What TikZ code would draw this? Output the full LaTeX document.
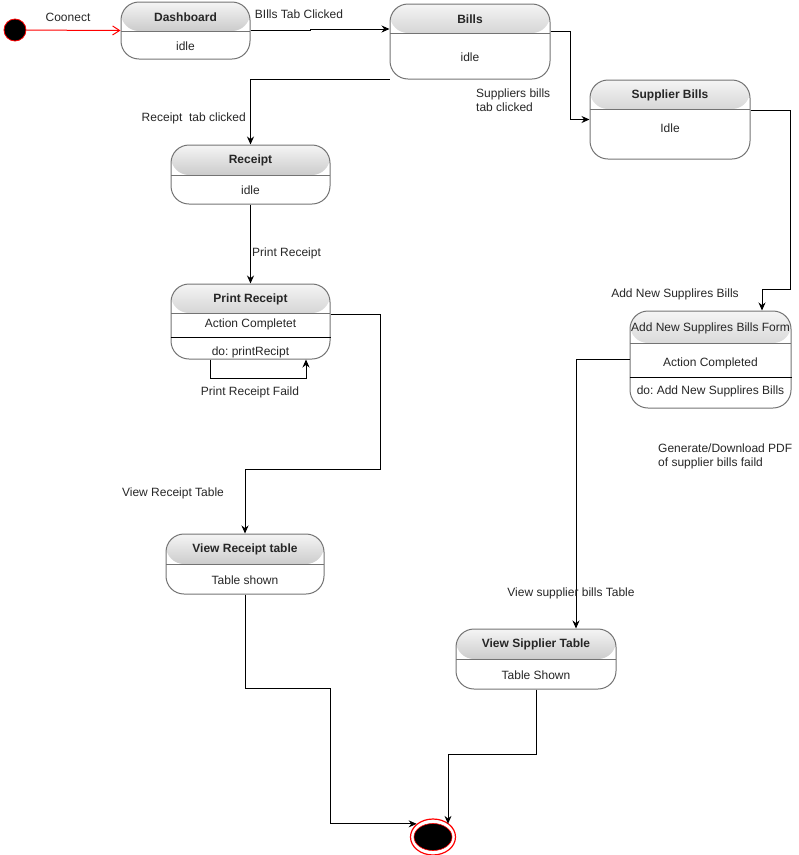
\documentclass[tikz,border=0pt]{standalone}
\usepackage{fontspec}
\setmainfont{Liberation Sans}
\frenchspacing
\usepackage{tikz}
\usetikzlibrary{shapes.geometric,arrows.meta}

\begin{document}
\begin{tikzpicture}[x=1pt,y=-1pt]
\tikzstyle{txt} = [inner sep=0pt, text=black!85, font=\fontsize{12}{14}\selectfont]
\tikzstyle{ttl} = [txt, font=\fontsize{12}{14}\selectfont\bfseries]
\tikzstyle{line} = [draw, line width=1pt, -{Stealth[length=8pt,width=7pt]}]
\tikzstyle{state} = [draw=black!55, line width=1pt, rounded corners=18pt, inner sep=0pt,
  path picture={
    \shade[top color=black!4, bottom color=black!36]
      (path picture bounding box.north west) rectangle ([yshift=-#1]path picture bounding box.north east);
    \draw[black!55, line width=1pt] ([yshift=-#1]path picture bounding box.north west)
      -- ([yshift=-#1]path picture bounding box.north east);
  }]
\useasboundingbox (0,0) rectangle (799,855);

% start and end
\node[circle, fill=black, draw=red, line width=0.8pt, minimum size=22pt, inner sep=0pt] (init) at (15,30) {};
\node[ellipse, draw=red, line width=1.2pt, minimum width=45pt, minimum height=36pt] (final) at (433,837) {};
\filldraw[black, draw=red, line width=0.6pt] (final.center) ellipse (19 and 13.5);

% states
\node[state=29pt, minimum width=129pt, minimum height=57pt] (dash) at (185.5,30.5) {};
\node[ttl] at ([yshift=-16pt]dash.north) {Dashboard};
\node[txt] at ([yshift=13pt]dash.south) {idle};

\node[state=29pt, minimum width=160pt, minimum height=75pt] (bills) at (470,41.5) {};
\node[ttl] at ([yshift=-16pt]bills.north) {Bills};
\node[txt] at ([yshift=22pt]bills.south) {idle};

\node[state=29pt, minimum width=160pt, minimum height=79pt] (supp) at (670,119.5) {};
\node[ttl] at ([yshift=-16pt]supp.north) {Supplier Bills};
\node[txt] at ([yshift=31pt]supp.south) {Idle};

\node[state=30pt, minimum width=159pt, minimum height=59pt] (receipt) at (250.5,174.5) {};
\node[ttl] at ([yshift=-16pt]receipt.north) {Receipt};
\node[txt] at ([yshift=14pt]receipt.south) {idle};

\node[state=29pt, minimum width=159pt, minimum height=75pt] (print) at (250.5,321.5) {};
\node[ttl] at ([yshift=-16pt]print.north) {Print Receipt};
\node[txt] at ([yshift=35pt]print.south) {Action Completet};
\draw[line width=1pt] ([yshift=22pt]print.south west) -- ([yshift=22pt]print.south east);
\node[txt] at ([yshift=7pt]print.south) {do: printRecipt};

\node[state=32pt, minimum width=161pt, minimum height=97pt] (addnew) at (710.5,359.5) {};
\node[txt] at ([yshift=-18pt]addnew.north) {Add New Supplires Bills Form};
\node[txt] at ([yshift=45pt]addnew.south) {Action Completed};
\draw[line width=1pt] ([yshift=31pt]addnew.south west) -- ([yshift=31pt]addnew.south east);
\node[txt] at ([yshift=17pt]addnew.south) {do: Add New Supplires Bills};

\node[state=30pt, minimum width=158pt, minimum height=60pt] (viewr) at (245,564) {};
\node[ttl] at ([yshift=-16pt]viewr.north) {View Receipt table};
\node[txt] at ([yshift=14pt]viewr.south) {Table shown};

\node[state=30pt, minimum width=160pt, minimum height=60pt] (viewsup) at (536,659) {};
\node[ttl] at ([yshift=-16pt]viewsup.north) {View Sipplier Table};
\node[txt] at ([yshift=14pt]viewsup.south) {Table Shown};

% bends
\coordinate (c1) at (380,469);
\coordinate (c2) at (330,688);
\coordinate (c3) at (448,754);
\coordinate (c4) at (790,289);

% transitions
\draw[red, line width=1pt, -{Straight Barb[length=7pt,width=9pt]}] (init) -- (dash.west);
\node[txt] at (68,17) {Coonect};

\draw[line] (dash.east) -- ++(60,0) |- ([yshift=12.5pt]bills.west);
\node[txt] at (299,14) {BIlls Tab Clicked};

\draw[line] ([yshift=10pt]bills.east) -- ++(20,0) |- (supp.west);
\node[txt, align=left, anchor=west] at (476,100) {Suppliers bills\\tab clicked};

\draw[line] (bills.south west) -| (receipt.north);
\node[txt, anchor=east] at (246,118) {Receipt\ \ tab clicked};

\draw[line] (receipt.south) -- (print.north);
\node[txt, anchor=west] at (252,253) {Print Receipt};

\draw[line] ([xshift=-40.5pt]print.south) -- ++(0,19) -| ([xshift=55.5pt]print.south);
\node[txt] at (250,392) {Print Receipt Faild};

\draw[line] ([yshift=7.5pt]print.east) -| (c1) -| (viewr.north);
\node[txt] at (173,493) {View Receipt Table};

\draw[line] (viewr.south) |- (c2) |- (final.north west);

\draw[line] ([yshift=9.5pt]supp.east) -| (c4) -| ([xshift=51.5pt]addnew.north);
\node[txt] at (675,294) {Add New Supplires Bills};

\node[txt, align=left, anchor=west] at (658,456) {Generate/Download PDF\\of supplier bills faild};

\draw[line] (addnew.west) -| ([xshift=40pt]viewsup.north);
\node[txt] at (571,593) {View supplier bills Table};

\draw[line] (viewsup.south) |- (c3) -- (c3 |- final.north east);

\end{tikzpicture}
\end{document}
